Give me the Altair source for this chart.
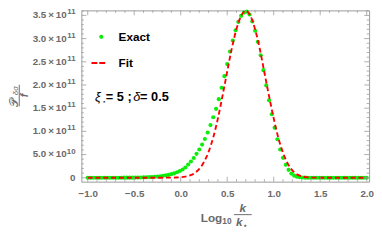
import altair as alt
import pandas as pd

# ---- data ----
exact_x = [-1.00, -0.97, -0.94, -0.91, -0.88, -0.85, -0.82, -0.79, -0.76, -0.73,
           -0.70, -0.67, -0.64, -0.61, -0.58, -0.55, -0.52, -0.49, -0.46, -0.43,
           -0.40, -0.37, -0.34, -0.31, -0.28, -0.25, -0.22, -0.19, -0.16, -0.13,
           -0.10, -0.07, -0.04, -0.01, 0.02, 0.05, 0.08, 0.11, 0.14, 0.17,
           0.20, 0.23, 0.26, 0.29, 0.32, 0.35, 0.38, 0.41, 0.44, 0.47,
           0.50, 0.53, 0.56, 0.59, 0.62, 0.65, 0.68, 0.71, 0.74, 0.77,
           0.80, 0.83, 0.86, 0.89, 0.92, 0.95, 0.98, 1.01, 1.04, 1.07,
           1.10, 1.13, 1.16, 1.19, 1.22, 1.25, 1.28, 1.31, 1.34, 1.37,
           1.40, 1.43, 1.46, 1.49, 1.52, 1.55, 1.58, 1.61, 1.64, 1.67,
           1.70, 1.73, 1.76, 1.79, 1.82, 1.85, 1.88, 1.91, 1.94, 1.97, 2.00]
# in units of 1e11
exact_y = [0.0001, 0.0001, 0.0001, 0.0001, 0.0001, 0.0001, 0.0002, 0.0002, 0.0003, 0.0004,
           0.0005, 0.0007, 0.0009, 0.0012, 0.0016, 0.0021, 0.0028, 0.0036, 0.0047, 0.006,
           0.008, 0.010, 0.013, 0.017, 0.021, 0.026, 0.033, 0.041, 0.051, 0.063,
           0.078, 0.096, 0.118, 0.145, 0.177, 0.222, 0.285, 0.35, 0.425, 0.515,
           0.61, 0.715, 0.835, 0.975, 1.135, 1.305, 1.485, 1.695, 1.94, 2.19,
           2.45, 2.72, 2.96, 3.18, 3.36, 3.49, 3.56, 3.58, 3.52, 3.37,
           3.17, 2.93, 2.64, 2.32, 1.99, 1.67, 1.37, 1.08, 0.83, 0.61,
           0.43, 0.28, 0.17, 0.09, 0.045, 0.022, 0.011, 0.005, 0.0025, 0.001,
           0.0, 0.0, 0.0, 0.0, 0.0, 0.0, 0.0, 0.0, 0.0, 0.0,
           0.0, 0.0, 0.0, 0.0, 0.0, 0.0, 0.0, 0.0, 0.0, 0.0, 0.0]

fit_x = [-1.00, -0.95, -0.90, -0.85, -0.80, -0.75, -0.70, -0.65, -0.60, -0.55,
         -0.50, -0.45, -0.40, -0.35, -0.30, -0.25, -0.20, -0.15, -0.10, -0.05,
         0.00, 0.05, 0.10, 0.15, 0.20, 0.25, 0.30, 0.35, 0.40, 0.45,
         0.50, 0.55, 0.60, 0.65, 0.70, 0.75, 0.80, 0.85, 0.90, 0.95,
         1.00, 1.05, 1.10, 1.15, 1.20, 1.25, 1.30, 1.35, 1.40, 1.45,
         1.50, 1.55, 1.60, 1.65, 1.70, 1.75, 1.80, 1.85, 1.90, 1.95, 2.00]
fit_y = [0.0, 0.0, 0.0, 0.0, 0.0, 0.0, 0.0, 0.0, 0.0, 0.0,
         0.0, 0.0, 0.0, 0.0, 0.0, 0.0, 0.0007, 0.0015, 0.003, 0.006,
         0.012, 0.025, 0.05, 0.10, 0.19, 0.34, 0.56, 0.87, 1.28, 1.77,
         2.29, 2.79, 3.21, 3.49, 3.60, 3.49, 3.20, 2.78, 2.27, 1.76,
         1.28, 0.86, 0.54, 0.31, 0.16, 0.075, 0.033, 0.013, 0.005, 0.002,
         0.0007, 0.0, 0.0, 0.0, 0.0, 0.0, 0.0, 0.0, 0.0, 0.0, 0.0]

x_major = [-1.0, -0.5, 0.0, 0.5, 1.0, 1.5, 2.0]
x_minor = [-0.9, -0.8, -0.7, -0.6, -0.4, -0.3, -0.2, -0.1, 0.1, 0.2, 0.3, 0.4,
           0.6, 0.7, 0.8, 0.9, 1.1, 1.2, 1.3, 1.4, 1.6, 1.7, 1.8, 1.9]
y_major = [0.0, 0.5, 1.0, 1.5, 2.0, 2.5, 3.0, 3.5]
y_label_base = ["0", "5.0", "1.0", "1.5", "2.0", "2.5", "3.0", "3.5"]
y_label_exp = ["", "10", "11", "11", "11", "11", "11", "11"]
y_minor = [0.1, 0.2, 0.3, 0.4, 0.6, 0.7, 0.8, 0.9, 1.1, 1.2, 1.3, 1.4,
           1.6, 1.7, 1.8, 1.9, 2.1, 2.2, 2.3, 2.4, 2.6, 2.7, 2.8, 2.9,
           3.1, 3.2, 3.3, 3.4, 3.6]

W, H = 294, 175
XDOM = [-1.068, 2.026]
YDOM = [-0.084, 3.608]
GRAY = "#6a6a6a"
FRAME = "#9a9a9a"
FONT = "Liberation Sans"
GREEN = "#0aee0a"
RED = "#ff0000"

exact_df = pd.DataFrame({"x": exact_x, "y": exact_y})
fit_df = pd.DataFrame({"x": fit_x, "y": fit_y})
one = pd.DataFrame({"k": [0]})
ylab_df = pd.DataFrame({"v": y_major, "base": y_label_base, "exp": y_label_exp})

xs = alt.Scale(domain=XDOM, nice=False, zero=False)
ys = alt.Scale(domain=YDOM, nice=False, zero=False)

xaxis = alt.Axis(values=x_major, format=".1f", ticks=False, domain=False, grid=False,
                 labelFont=FONT, labelFontSize=10, labelFontWeight="bold",
                 labelColor=GRAY, labelPadding=7, title=None)
yaxis = alt.Axis(values=y_major, labels=False, ticks=False, domain=False, grid=False,
                 title=None)

points = alt.Chart(exact_df).mark_circle(size=18, color=GREEN, opacity=1).encode(
    x=alt.X("x:Q", scale=xs, axis=xaxis),
    y=alt.Y("y:Q", scale=ys, axis=yaxis),
)
fit = alt.Chart(fit_df).mark_line(color=RED, strokeDash=[5, 3], strokeWidth=1.9,
                                  interpolate="monotone").encode(
    x=alt.X("x:Q", scale=xs), y=alt.Y("y:Q", scale=ys))

# y tick labels with real superscripts
ylab_base = alt.Chart(ylab_df).transform_filter("datum.exp != ''").transform_calculate(
    lab="datum.base + '\u2009\u00d7\u200910'").mark_text(
    font=FONT, fontSize=10, fontWeight="bold", color=GRAY, align="right",
    baseline="middle").encode(x=alt.value(-15), y=alt.Y("v:Q", scale=ys), text="lab:N")
ylab_exp = alt.Chart(ylab_df).transform_filter("datum.exp != ''").mark_text(
    font=FONT, fontSize=8, fontWeight="bold", color=GRAY, align="right",
    baseline="middle", dy=-3).encode(x=alt.value(-6), y=alt.Y("v:Q", scale=ys), text="exp:N")
ylab_zero = alt.Chart(ylab_df).transform_filter("datum.exp == ''").mark_text(
    font=FONT, fontSize=10, fontWeight="bold", color=GRAY, align="right",
    baseline="middle").encode(x=alt.value(-6), y=alt.Y("v:Q", scale=ys), text="base:N")


def xticks(vals, length, top):
    df = pd.DataFrame({"v": vals})
    y0, y1 = (0, length) if top else (H, H - length)
    return alt.Chart(df).mark_rule(color=FRAME, strokeWidth=0.8).encode(
        x=alt.X("v:Q", scale=xs), y=alt.value(y0), y2=alt.value(y1))


def yticks(vals, length, right):
    df = pd.DataFrame({"v": vals})
    x0, x1 = (W, W - length) if right else (0, length)
    return alt.Chart(df).mark_rule(color=FRAME, strokeWidth=0.8).encode(
        y=alt.Y("v:Q", scale=ys), x=alt.value(x0), x2=alt.value(x1))


ticks = [xticks(x_major, 5, False), xticks(x_major, 5, True),
         xticks(x_minor, 2.5, False), xticks(x_minor, 2.5, True),
         yticks(y_major, 5, False), yticks(y_major, 5, True),
         yticks(y_minor, 2.5, False), yticks(y_minor, 2.5, True)]


def txt(s, x, y, size=11, weight="bold", style="normal", color="black",
        align="left", baseline="alphabetic", angle=0):
    kw = dict(text=s, fontSize=size, fontWeight=weight, fontStyle=style, color=color,
              align=align, baseline=baseline, font=FONT)
    if angle:
        kw["angle"] = angle
    return alt.Chart(one).mark_text(**kw).encode(x=alt.value(x), y=alt.value(y))


legend = [
    alt.Chart(one).mark_circle(size=18, color=GREEN, opacity=1).encode(
        x=alt.value(20.3), y=alt.value(27)),
    txt("Exact", 38, 31.5, size=12),
    alt.Chart(one).mark_rule(color=RED, strokeDash=[6, 2], strokeWidth=1.9).encode(
        x=alt.value(10.3), x2=alt.value(24.7), y=alt.value(53.7)),
    txt("Fit", 38, 57.5, size=12),
    txt("\u03be", 14, 93, size=13, weight="normal", style="italic"),
    txt("\u22c6", 21, 95.5, size=7, weight="normal"),
    txt("= 5 ;", 25, 93, size=13),
    txt("\u03b4", 53, 93, size=13, weight="normal", style="italic"),
    txt("= 0.5", 60, 93, size=13),
]

xtitle = [
    txt("Log", 122, 216, size=12, color=GRAY),
    txt("10", 144, 218.7, size=8.5, color=GRAY),
    txt("k", 165, 206, size=12, style="italic", color=GRAY, align="center"),
    alt.Chart(one).mark_rule(color=GRAY, strokeWidth=1).encode(
        x=alt.value(156), x2=alt.value(174), y=alt.value(208.7)),
    txt("k", 158, 220.7, size=12, style="italic", color=GRAY),
    txt("\u22c6", 164.7, 222, size=7, color=GRAY),
]

ytitle = [
    txt("\U0001d4ab", -69, 99, size=12, weight="normal", color=GRAY,
        align="left", baseline="middle", angle=270),
    txt("\u03b4\u03c3", -67, 82, size=8, weight="normal", style="italic", color=GRAY,
        align="center", baseline="middle", angle=270),
    alt.Chart(one).mark_rule(color=GRAY, strokeWidth=1).encode(
        x=alt.value(-63.5), y=alt.value(76), y2=alt.value(98)),
    txt("f", -58, 87, size=11, weight="bold", style="italic", color=GRAY,
        align="center", baseline="middle", angle=270),
]

chart = alt.layer(points, fit, ylab_base, ylab_exp, ylab_zero, *ticks, *legend,
                  *xtitle, *ytitle).properties(
    width=W, height=H,
    autosize=alt.AutoSizeParams(type="none"),
    padding={"left": 75, "top": 0, "right": 5, "bottom": 49},
).configure_view(stroke=FRAME, strokeWidth=1)

chart.save("out.html", embed_options={"renderer": "svg", "actions": False})
